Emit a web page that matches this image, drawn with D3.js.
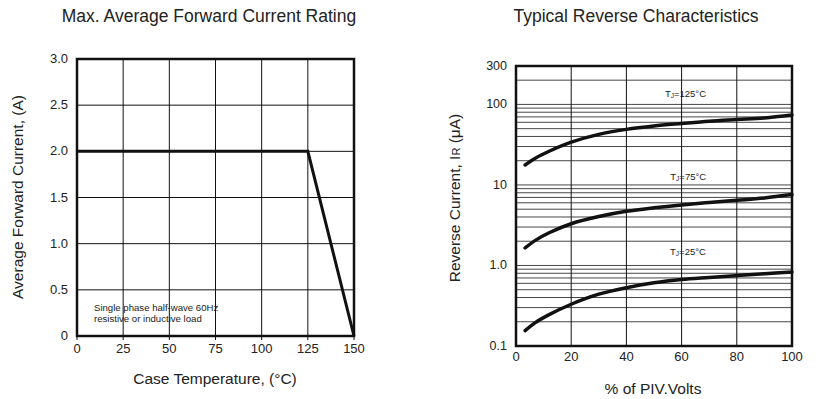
<!DOCTYPE html>
<html>
<head>
<meta charset="utf-8">
<script src="https://cdn.jsdelivr.net/npm/d3@7"></script>
<style>
  body { margin: 0; background: #fff; }
  text { font-family: "Liberation Sans", Arial, sans-serif; fill: #222; }
</style>
</head>
<body>
<script>
// left chart: derating curve
var caseTemp = [0, 125, 150];
var fwdCurrent = [2.0, 2.0, 0];
var leftXTicks = [0, 25, 50, 75, 100, 125, 150];
var leftYTicks = [0, 0.5, 1.0, 1.5, 2.0, 2.5, 3.0];
var leftYLabels = ["0", "0.5", "1.0", "1.5", "2.0", "2.5", "3.0"];

// right chart: reverse current vs % PIV
var pivPct = [3.3, 7, 12, 20, 30, 40, 50, 60, 70, 80, 90, 100];
var ir125 = [17.7, 21.5, 26.2, 34, 42.5, 49, 54, 58, 62, 65, 68, 74];
var ir75 = [1.65, 2.05, 2.55, 3.3, 4.05, 4.7, 5.2, 5.65, 6.05, 6.45, 6.9, 7.6];
var ir25 = [0.155, 0.195, 0.245, 0.33, 0.44, 0.53, 0.61, 0.67, 0.71, 0.75, 0.79, 0.83];
var curveNames = ["125", "75", "25"];
var labelPos = [[61.4, 125], [62.4, 11.5], [62.3, 1.35]];
var rightXTicks = [0, 20, 40, 60, 80, 100];
var rightYTicks = [0.1, 1, 10, 100, 300];
var rightYLabels = ["0.1", "1.0", "10", "100", "300"];

var svg = d3.select("body").append("svg")
  .attr("width", 819)
  .attr("height", 399);

// ---------- left ----------
var lx = d3.scaleLinear().domain([0, 150]).range([77, 354]);
var ly = d3.scaleLinear().domain([0, 3]).range([336, 59]);

var left = svg.append("g");

left.append("g").selectAll("line.v")
  .data(leftXTicks).enter().append("line")
  .attr("x1", function(d) { return lx(d); })
  .attr("x2", function(d) { return lx(d); })
  .attr("y1", ly(3)).attr("y2", ly(0) + 4)
  .attr("stroke", "#111").attr("stroke-width", 1);

left.append("g").selectAll("line.h")
  .data(leftYTicks).enter().append("line")
  .attr("x1", lx(0)).attr("x2", lx(150))
  .attr("y1", function(d) { return ly(d); })
  .attr("y2", function(d) { return ly(d); })
  .attr("stroke", "#111").attr("stroke-width", 1);

left.append("rect")
  .attr("x", lx(0)).attr("y", ly(3))
  .attr("width", lx(150) - lx(0)).attr("height", ly(0) - ly(3))
  .attr("fill", "none").attr("stroke", "#111").attr("stroke-width", 2.5);

left.append("g").selectAll("text")
  .data(leftXTicks).enter().append("text")
  .attr("x", function(d) { return lx(d); })
  .attr("y", 353)
  .attr("text-anchor", "middle")
  .attr("font-size", 13)
  .text(function(d) { return d; });

left.append("g").selectAll("text")
  .data(leftYTicks).enter().append("text")
  .attr("x", 68)
  .attr("y", function(d) { return ly(d) + 4; })
  .attr("text-anchor", "end")
  .attr("font-size", 13)
  .text(function(d, i) { return leftYLabels[i]; });

var leftLine = d3.line()
  .x(function(d) { return lx(d[0]); })
  .y(function(d) { return ly(d[1]); });

left.append("path")
  .datum(d3.zip(caseTemp, fwdCurrent))
  .attr("d", leftLine)
  .attr("fill", "none")
  .attr("stroke", "#111")
  .attr("stroke-width", 3)
  .attr("stroke-linejoin", "miter");

left.append("text")
  .attr("x", 94).attr("y", 311)
  .attr("font-size", 9.6)
  .text("Single phase half-wave 60Hz");
left.append("text")
  .attr("x", 94).attr("y", 322)
  .attr("font-size", 9.6)
  .text("resistive or inductive load");

left.append("text")
  .attr("x", 209).attr("y", 22)
  .attr("text-anchor", "middle")
  .attr("font-size", 17.5)
  .text("Max. Average Forward Current Rating");

left.append("text")
  .attr("x", 215).attr("y", 384)
  .attr("text-anchor", "middle")
  .attr("font-size", 15.5)
  .text("Case Temperature, (°C)");

left.append("text")
  .attr("transform", "translate(23,197) rotate(-90)")
  .attr("text-anchor", "middle")
  .attr("font-size", 15.5)
  .text("Average Forward Current, (A)");

// ---------- right ----------
var rx = d3.scaleLinear().domain([0, 100]).range([516, 792]);
var ry = d3.scaleLog().domain([0.1, 300]).range([346, 66]);

var right = svg.append("g");

var minor = [];
[0.1, 1, 10, 100].forEach(function(dec) {
  for (var k = 2; k <= 9; k++) {
    if (dec * k < 300) minor.push(dec * k);
  }
});
minor = minor.concat([1, 10, 100]);

right.append("g").selectAll("line")
  .data(minor).enter().append("line")
  .attr("x1", rx(0)).attr("x2", rx(100))
  .attr("y1", function(d) { return ry(d); })
  .attr("y2", function(d) { return ry(d); })
  .attr("stroke", "#333").attr("stroke-width", 0.9);

right.append("g").selectAll("line")
  .data(rightXTicks).enter().append("line")
  .attr("x1", function(d) { return rx(d); })
  .attr("x2", function(d) { return rx(d); })
  .attr("y1", ry(300)).attr("y2", ry(0.1))
  .attr("stroke", "#111").attr("stroke-width", 1);

right.append("rect")
  .attr("x", rx(0)).attr("y", ry(300))
  .attr("width", rx(100) - rx(0)).attr("height", ry(0.1) - ry(300))
  .attr("fill", "none").attr("stroke", "#111").attr("stroke-width", 2.5);

right.append("g").selectAll("text")
  .data(rightXTicks).enter().append("text")
  .attr("x", function(d) { return rx(d); })
  .attr("y", 361)
  .attr("text-anchor", "middle")
  .attr("font-size", 13)
  .text(function(d) { return d; });

right.append("g").selectAll("text")
  .data(rightYTicks).enter().append("text")
  .attr("x", 507)
  .attr("y", function(d) { return ry(d) + 4; })
  .attr("text-anchor", "end")
  .attr("font-size", 12.5)
  .text(function(d, i) { return rightYLabels[i]; });

var rightLine = d3.line()
  .x(function(d) { return rx(d[0]); })
  .y(function(d) { return ry(d[1]); })
  .curve(d3.curveCatmullRom.alpha(0.5));

[ir125, ir75, ir25].forEach(function(series, i) {
  right.append("path")
    .datum(d3.zip(pivPct, series))
    .attr("d", rightLine)
    .attr("fill", "none")
    .attr("stroke", "#111")
    .attr("stroke-width", 3.5)
    .attr("stroke-linecap", "round");

  var lbl = right.append("text")
    .attr("x", rx(labelPos[i][0]))
    .attr("y", ry(labelPos[i][1]))
    .attr("text-anchor", "middle")
    .attr("font-size", 9.5);
  lbl.append("tspan").text("T");
  lbl.append("tspan").attr("font-size", 6.5).attr("dy", 1).text("J");
  lbl.append("tspan").attr("dy", -1).text("=" + curveNames[i] + "°C");
});

right.append("text")
  .attr("x", 636).attr("y", 22)
  .attr("text-anchor", "middle")
  .attr("font-size", 17.5)
  .text("Typical Reverse Characteristics");

right.append("text")
  .attr("x", 653).attr("y", 394)
  .attr("text-anchor", "middle")
  .attr("font-size", 15.5)
  .text("% of PIV.Volts");

var yt = right.append("text")
  .attr("transform", "translate(460,198) rotate(-90)")
  .attr("text-anchor", "middle")
  .attr("font-size", 15.5);
yt.append("tspan").text("Reverse Current, I");
yt.append("tspan").attr("font-size", 11).text("R");
yt.append("tspan").text(" (μA)");
</script>
</body>
</html>
